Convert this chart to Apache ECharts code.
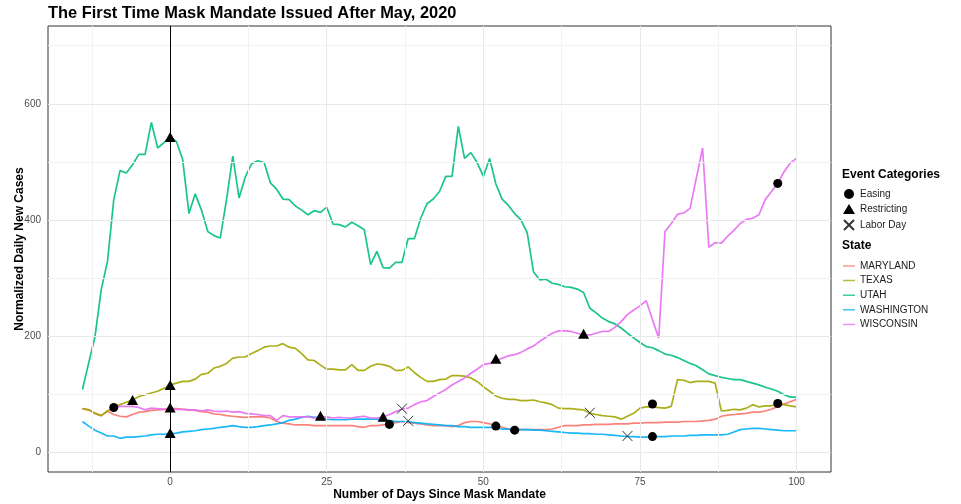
<!DOCTYPE html>
<html><head><meta charset="utf-8">
<script src="https://cdn.jsdelivr.net/npm/echarts@6/dist/echarts.min.js"></script>
<style>html,body{margin:0;padding:0;background:#fff}#c{width:961px;height:504px}</style>
</head><body><div id="c"></div>
<script>
// Days since mask mandate (-14 .. 100)
const days = [];
for (let d = -14; d <= 100; d++) days.push(d);

const maryland = [
  75,73,67,63,71,65,62,61,65,69,
  70,72,73,74,75,75,74,73,72,70,
  69,66,65,63,62,61,60,61,61,61,
  59,53,50,49,47,47,47,46,46,46,
  46,46,46,46,44,43,46,46,47,49,
  51,53,51,50,49,47,46,46,46,44,
  46,51,53,53,51,49,46,43,40,39,
  39,39,39,39,39,40,43,46,46,46,
  47,47,48,48,48,49,49,49,50,50,
  51,51,51,52,52,52,53,53,53,54,
  55,57,62,64,65,66,67,69,69,71,
  74,79,83,87,91
];
const texas = [
  75,73,67,63,71,77,82,86,90,96,
  99,102,105,110,116,119,122,122,126,134,
  136,145,148,153,162,164,164,170,175,181,
  183,183,187,181,179,170,159,158,150,143,
  143,142,142,151,141,141,148,152,151,148,
  141,141,147,137,129,122,122,125,126,132,
  132,131,128,122,113,105,97,93,91,91,
  89,89,90,87,85,82,76,75,75,74,
  73,67,65,63,62,61,57,62,67,76,
  78,78,77,76,79,125,124,120,122,122,
  122,119,71,72,74,73,76,82,78,80,
  80,83,82,80,78
];
const utah = [
  108,154,199,280,329,435,485,481,495,513,
  513,568,524,533,544,535,504,411,445,417,
  380,373,369,435,510,438,474,497,502,499,
  464,453,436,435,424,417,409,416,413,422,
  393,392,388,396,390,383,323,346,318,317,
  327,327,368,368,403,428,436,449,475,475,
  561,506,516,499,475,506,462,436,425,411,
  400,378,311,297,298,291,289,285,284,281,
  275,248,240,231,225,221,214,205,197,189,
  182,180,175,169,167,163,158,153,149,142,
  135,132,129,127,125,125,122,119,116,112,
  109,105,99,95,95
];
const washington = [
  53,45,38,33,28,28,24,26,26,27,
  28,30,31,31,32,33,35,36,37,39,
  40,41,43,44,46,44,43,43,44,46,
  47,49,51,55,57,60,62,60,60,57,
  56,56,56,57,57,57,57,57,56,55,
  53,53,53,51,50,49,48,47,46,46,
  44,44,43,43,43,43,42,40,40,39,
  39,39,38,38,37,36,35,34,33,33,
  32,32,31,31,30,29,28,27,27,26,
  26,27,27,27,28,28,28,29,29,30,
  30,30,30,31,35,39,40,41,41,40,
  39,38,37,37,37
];
const wisconsin = [
  null,null,null,null,null,77,79,79,79,77,
  73,76,75,74,75,74,74,73,73,71,
  73,71,70,71,69,70,67,66,65,63,
  63,55,63,61,61,61,61,59,61,61,
  59,60,59,59,61,62,59,59,61,65,
  70,74,76,82,87,89,96,102,108,116,
  122,128,136,143,151,153,158,162,166,168,
  172,178,183,191,198,205,209,209,208,205,
  202,202,205,208,208,215,225,237,245,252,
  261,228,197,380,394,410,412,420,472,524,
  353,361,360,372,382,394,401,403,409,435,
  449,463,483,498,506
];

const stateNames = ['MARYLAND','TEXAS','UTAH','WASHINGTON','WISCONSIN'];
const stateValues = [maryland, texas, utah, washington, wisconsin];
const stateColors = ['#F8766D','#A3A500','#00BF7D','#00B0F6','#E76BF3'];

const eventNames = ['Easing','Restricting','Labor Day'];
const easing = [[-9,77],[35,48],[52,45],[55,38],[77,83],[77,27],[97,84],[97,463]];
const restricting = [[-6,90],[0,543],[0,116],[0,77],[0,33],[24,63],[34,61],[52,161],[66,204]];
const laborDay = [[37,75],[38,54],[67,68],[73,28]];

const xTicks = [0,25,50,75,100];
const xMinor = [-12.5,12.5,37.5,62.5,87.5];
const yTicks = [0,200,400,600];
const yMinor = [100,300,500,700];
const mandateDay = 0;

const FONT = '"Liberation Sans", Arial, sans-serif';
// legend key: a thin horizontal line (corner dots keep the 12x10 key box)
const LINE_KEY = 'path://M0,0L0.01,0L0,0.01Z M0,4.25L12,4.25L12,5.75L0,5.75Z M12,10L11.99,10L12,9.99Z';

const gridLines = [
  ...yMinor.map(v => ({yAxis: v, lineStyle: {color: '#F2F2F2', width: 1, type: 'solid'}})),
  ...xMinor.map(v => ({xAxis: v, lineStyle: {color: '#F2F2F2', width: 1, type: 'solid'}})),
  ...yTicks.map(v => ({yAxis: v, lineStyle: {color: '#E8E8E8', width: 1, type: 'solid'}})),
  ...xTicks.map(v => ({xAxis: v, lineStyle: {color: '#E8E8E8', width: 1, type: 'solid'}}))
];

const lineSeries = stateNames.map((name, i) => ({
  name: name,
  type: 'line',
  data: days.map((d, j) => [d, stateValues[i][j]]).filter(p => p[1] !== null),
  showSymbol: false,
  symbol: 'none',
  z: 2,
  lineStyle: {color: stateColors[i], width: 1.7, opacity: 0.9},
  itemStyle: {color: stateColors[i]},
  emphasis: {disabled: true}
}));

const chart = echarts.init(document.getElementById('c'), null, {renderer: 'canvas'});
chart.setOption({
  animation: false,
  backgroundColor: '#fff',
  textStyle: {fontFamily: FONT},
  title: [
    {text: 'The First Time Mask Mandate Issued After May, 2020', left: 48, top: 5, padding: 0,
     textStyle: {fontSize: 16.4, fontWeight: 'bold', color: '#000', fontFamily: FONT}},
    {text: 'Event Categories', left: 842, top: 169, padding: 0,
     textStyle: {fontSize: 12, fontWeight: 'bold', color: '#000', fontFamily: FONT}},
    {text: 'State', left: 842, top: 240, padding: 0,
     textStyle: {fontSize: 12, fontWeight: 'bold', color: '#000', fontFamily: FONT}}
  ],
  legend: [
    {data: eventNames, orient: 'vertical', left: 843, top: 189, padding: 0,
     itemWidth: 12, itemHeight: 10, itemGap: 5, selectedMode: false,
     textStyle: {fontSize: 10, color: '#1A1A1A', fontFamily: FONT}},
    {data: stateNames.map((n, i) => ({name: n, icon: LINE_KEY,
       itemStyle: {color: stateColors[i], opacity: 0.75}})),
     orient: 'vertical', left: 843, top: 261, padding: 0,
     itemWidth: 12, itemHeight: 10, itemGap: 4.6, selectedMode: false,
     textStyle: {fontSize: 10, color: '#1A1A1A', fontFamily: FONT}}
  ],
  grid: {left: 48, right: 130, top: 26, bottom: 32, show: true, outerBoundsMode: 'none',
         containLabel: false,
         borderColor: '#333', borderWidth: 1, backgroundColor: '#fff'},
  xAxis: {
    type: 'value', min: -19.5, max: 105.5,
    axisLine: {show: false},
    axisTick: {show: true, customValues: xTicks, length: 4, lineStyle: {color: '#333'}},
    axisLabel: {customValues: xTicks, color: '#4D4D4D', fontSize: 10, margin: 5, fontFamily: FONT},
    splitLine: {show: false},
    name: 'Number of Days Since Mask Mandate', nameLocation: 'middle', nameGap: 17,
    nameMoveOverlap: false,
    nameTextStyle: {fontWeight: 'bold', fontSize: 12, color: '#000', fontFamily: FONT}
  },
  yAxis: {
    type: 'value', min: -34, max: 734,
    axisLine: {show: false},
    axisTick: {show: true, customValues: yTicks, length: 4, lineStyle: {color: '#333'}},
    axisLabel: {customValues: yTicks, color: '#4D4D4D', fontSize: 10, margin: 7, fontFamily: FONT},
    splitLine: {show: false},
    name: 'Normalized Daily New Cases', nameLocation: 'middle', nameGap: 22, nameRotate: 90,
    nameMoveOverlap: false,
    nameTextStyle: {fontWeight: 'bold', fontSize: 12, color: '#000', fontFamily: FONT}
  },
  series: [
    {type: 'line', data: [[0, 0]], showSymbol: false, silent: true, z: 1,
     lineStyle: {opacity: 0},
     markLine: {silent: true, symbol: 'none', label: {show: false}, animation: false,
                emphasis: {disabled: true}, data: gridLines}},
    ...lineSeries,
    {type: 'line', data: [[0, 0]], showSymbol: false, silent: true, z: 3,
     lineStyle: {opacity: 0},
     markLine: {silent: true, symbol: 'none', label: {show: false}, animation: false,
                emphasis: {disabled: true},
                data: [{xAxis: mandateDay, lineStyle: {color: '#000', width: 1, type: 'solid'}}]}},
    {name: 'Easing', type: 'scatter', data: easing, symbol: 'circle', symbolSize: 9, z: 5,
     itemStyle: {color: '#000', opacity: 1}, emphasis: {disabled: true}},
    {name: 'Restricting', type: 'scatter', data: restricting, symbol: 'triangle', symbolSize: [11, 10], z: 5,
     itemStyle: {color: '#000', opacity: 1}, emphasis: {disabled: true}},
    {name: 'Labor Day', type: 'scatter', data: laborDay, symbol: 'path://M0,0L10,10M10,0L0,10',
     symbolSize: 10, z: 5,
     itemStyle: {color: 'rgba(0,0,0,0)', borderColor: '#333', borderWidth: 1, opacity: 1},
     emphasis: {disabled: true}}
  ]
});
</script>
</body></html>
